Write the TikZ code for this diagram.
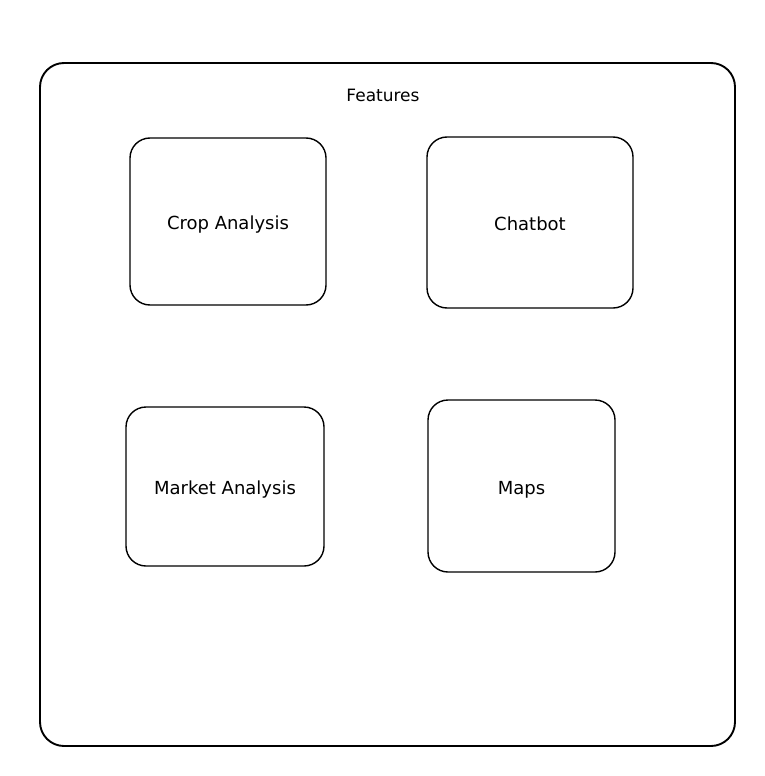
\documentclass[tikz,border=0pt]{standalone}
\usepackage{fontspec}
\setmainfont{DejaVu Sans}
\tikzset{
  frame/.style={draw, line width=1.9pt, rounded corners=24pt, inner sep=0pt},
  featurebox/.style={draw, line width=1.4pt, rounded corners=20pt, inner sep=0pt,
    font=\fontsize{18}{21}\selectfont, text height=16pt, text depth=0pt},
}
\begin{document}
\begin{tikzpicture}[x=1pt, y=-1pt]
        \useasboundingbox (0, 0) rectangle (765, 776);
        \node[frame, minimum width=695pt, minimum height=683pt] (features) at (387.5, 404.5) {};
        \node[font=\fontsize{17}{20}\selectfont] (title) at (383, 95) {Features};
        \node[featurebox, minimum width=196pt, minimum height=167pt] (crop) at (228, 221.5) {Crop Analysis};
        \node[featurebox, minimum width=206pt, minimum height=171pt] (chatbot) at (530, 222.5) {Chatbot};
        \node[featurebox, minimum width=198pt, minimum height=159pt] (market) at (225, 486.5) {Market Analysis};
        \node[featurebox, minimum width=187pt, minimum height=172pt] (maps) at (521.5, 486) {Maps};
    \end{tikzpicture}
\end{document}
